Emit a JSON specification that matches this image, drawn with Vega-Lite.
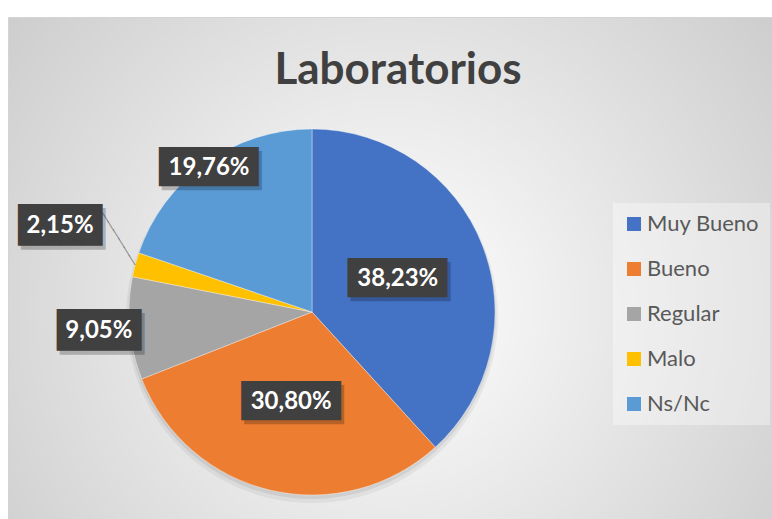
{
  "$schema": "https://vega.github.io/schema/vega-lite/v6.json",
  "width": 764,
  "height": 502,
  "autosize": "none",
  "padding": {"left": 8, "top": 17, "right": 0, "bottom": 0},
  "background": "#ffffff",
  "view": {
    "fill": {
      "gradient": "radial",
      "x1": 0.5, "y1": 0.55, "r1": 0,
      "x2": 0.5, "y2": 0.55, "r2": 0.72,
      "stops": [
        {"offset": 0, "color": "#ffffff"},
        {"offset": 1, "color": "#c6c6c6"}
      ]
    },
    "stroke": "#d4d4d4"
  },
  "title": {
    "text": "Laboratorios",
    "font": "Lato",
    "fontSize": 44,
    "fontWeight": "bold",
    "color": "#404040",
    "anchor": "middle",
    "baseline": "alphabetic",
    "offset": -111,
    "dx": 8
  },
  "data": {
    "values": [
      {"categoria": "Muy Bueno", "porcentaje": 38.23, "etiqueta": "38,23%", "orden": 1},
      {"categoria": "Bueno", "porcentaje": 30.80, "etiqueta": "30,80%", "orden": 2},
      {"categoria": "Regular", "porcentaje": 9.05, "etiqueta": "9,05%", "orden": 3},
      {"categoria": "Malo", "porcentaje": 2.15, "etiqueta": "2,15%", "orden": 4},
      {"categoria": "Ns/Nc", "porcentaje": 19.76, "etiqueta": "19,76%", "orden": 5}
    ]
  },
  "encoding": {
    "theta": {"field": "porcentaje", "type": "quantitative", "stack": true},
    "order": {"field": "orden", "type": "quantitative"}
  },
  "layer": [
    {
      "mark": {"type": "arc", "x": 304, "y": 300, "radius": 186, "color": "#000000", "opacity": 0.05}
    },
    {
      "mark": {"type": "arc", "x": 304, "y": 298, "radius": 184, "color": "#000000", "opacity": 0.07}
    },
    {
      "mark": {"type": "arc", "x": 304, "y": 295, "radius": 183, "stroke": "#ffffff", "strokeWidth": 0.6, "strokeOpacity": 0.6},
      "encoding": {
        "color": {
          "field": "categoria",
          "type": "nominal",
          "scale": {
            "domain": ["Muy Bueno", "Bueno", "Regular", "Malo", "Ns/Nc"],
            "range": ["#4472C4", "#ED7D31", "#A5A5A5", "#FFC000", "#5B9BD5"]
          },
          "legend": {
            "title": null,
            "orient": "none",
            "legendX": 605,
            "legendY": 186,
            "direction": "vertical",
            "fillColor": "rgba(255,255,255,0.35)",
            "padding": 10,
            "rowPadding": 23,
            "symbolType": "square",
            "symbolSize": 196,
            "symbolStrokeWidth": 0,
            "symbolOpacity": 1,
            "labelFont": "Lato",
            "labelFontSize": 22,
            "labelColor": "#595959",
            "labelOffset": 2,
            "labelLimit": 200
          }
        }
      }
    },
    {
      "mark": {"type": "text", "x": 304, "y": 295, "radius": 206, "dx": 15.5, "dy": -38.5, "angle": -32, "font": "DejaVu Sans", "fontSize": 10, "lineHeight": 10, "lineBreak": "\n", "color": "#808080", "align": "center", "baseline": "middle"},
      "encoding": {
        "text": {"condition": {"test": "datum.categoria === 'Malo'", "value": "│\n│\n│\n│\n│\n│"}, "value": ""}
      }
    },
    {
      "mark": {"type": "text"},
      "layer": [
        {
          "mark": {"type": "text", "x": 304, "y": 295, "radius": 92, "dx": 3, "dy": 4, "font": "DejaVu Sans Mono", "fontSize": 33, "color": "#000000", "opacity": 0.22, "align": "center", "baseline": "middle"},
          "encoding": {"text": {"condition": {"test": "datum.orden <= 2", "value": "█████"}, "value": ""}}
        },
        {
          "mark": {"type": "text", "x": 304, "y": 295, "radius": 92, "font": "DejaVu Sans Mono", "fontSize": 33, "color": "#404040", "align": "center", "baseline": "middle"},
          "encoding": {"text": {"condition": {"test": "datum.orden <= 2", "value": "█████"}, "value": ""}}
        },
        {
          "mark": {"type": "text", "x": 304, "y": 295, "radius": 92, "font": "Lato", "fontSize": 24, "fontWeight": "bold", "color": "#ffffff", "align": "center", "baseline": "middle"},
          "encoding": {"text": {"condition": {"test": "datum.orden <= 2", "field": "etiqueta"}, "value": ""}}
        }
      ]
    },
    {
      "mark": {"type": "text"},
      "layer": [
        {
          "mark": {"type": "text", "x": 304, "y": 295, "radius": 177, "dx": 3, "dy": 4, "font": "DejaVu Sans Mono", "fontSize": 33, "color": "#000000", "opacity": 0.22, "align": "center", "baseline": "middle"},
          "encoding": {"text": {"condition": {"test": "datum.categoria === 'Ns/Nc'", "value": "█████"}, "value": ""}}
        },
        {
          "mark": {"type": "text", "x": 304, "y": 295, "radius": 177, "font": "DejaVu Sans Mono", "fontSize": 33, "color": "#404040", "align": "center", "baseline": "middle"},
          "encoding": {"text": {"condition": {"test": "datum.categoria === 'Ns/Nc'", "value": "█████"}, "value": ""}}
        },
        {
          "mark": {"type": "text", "x": 304, "y": 295, "radius": 177, "font": "Lato", "fontSize": 24, "fontWeight": "bold", "color": "#ffffff", "align": "center", "baseline": "middle"},
          "encoding": {"text": {"condition": {"test": "datum.categoria === 'Ns/Nc'", "field": "etiqueta"}, "value": ""}}
        }
      ]
    },
    {
      "mark": {"type": "text"},
      "layer": [
        {
          "mark": {"type": "text", "x": 304, "y": 295, "radius": 214, "dx": 3, "dy": 4, "font": "DejaVu Sans Mono", "fontSize": 35, "color": "#000000", "opacity": 0.22, "align": "center", "baseline": "middle"},
          "encoding": {"text": {"condition": {"test": "datum.categoria === 'Regular'", "value": "████"}, "value": ""}}
        },
        {
          "mark": {"type": "text", "x": 304, "y": 295, "radius": 214, "font": "DejaVu Sans Mono", "fontSize": 35, "color": "#404040", "align": "center", "baseline": "middle"},
          "encoding": {"text": {"condition": {"test": "datum.categoria === 'Regular'", "value": "████"}, "value": ""}}
        },
        {
          "mark": {"type": "text", "x": 304, "y": 295, "radius": 214, "font": "Lato", "fontSize": 24, "fontWeight": "bold", "color": "#ffffff", "align": "center", "baseline": "middle"},
          "encoding": {"text": {"condition": {"test": "datum.categoria === 'Regular'", "field": "etiqueta"}, "value": ""}}
        }
      ]
    },
    {
      "mark": {"type": "text"},
      "layer": [
        {
          "mark": {"type": "text", "x": 304, "y": 295, "radius": 266, "dx": 8, "dy": -13, "font": "DejaVu Sans Mono", "fontSize": 35, "color": "#000000", "opacity": 0.22, "align": "center", "baseline": "middle"},
          "encoding": {"text": {"condition": {"test": "datum.categoria === 'Malo'", "value": "████"}, "value": ""}}
        },
        {
          "mark": {"type": "text", "x": 304, "y": 295, "radius": 266, "dx": 5, "dy": -17, "font": "DejaVu Sans Mono", "fontSize": 35, "color": "#404040", "align": "center", "baseline": "middle"},
          "encoding": {"text": {"condition": {"test": "datum.categoria === 'Malo'", "value": "████"}, "value": ""}}
        },
        {
          "mark": {"type": "text", "x": 304, "y": 295, "radius": 266, "dx": 5, "dy": -17, "font": "Lato", "fontSize": 24, "fontWeight": "bold", "color": "#ffffff", "align": "center", "baseline": "middle"},
          "encoding": {"text": {"condition": {"test": "datum.categoria === 'Malo'", "field": "etiqueta"}, "value": ""}}
        }
      ]
    }
  ]
}
